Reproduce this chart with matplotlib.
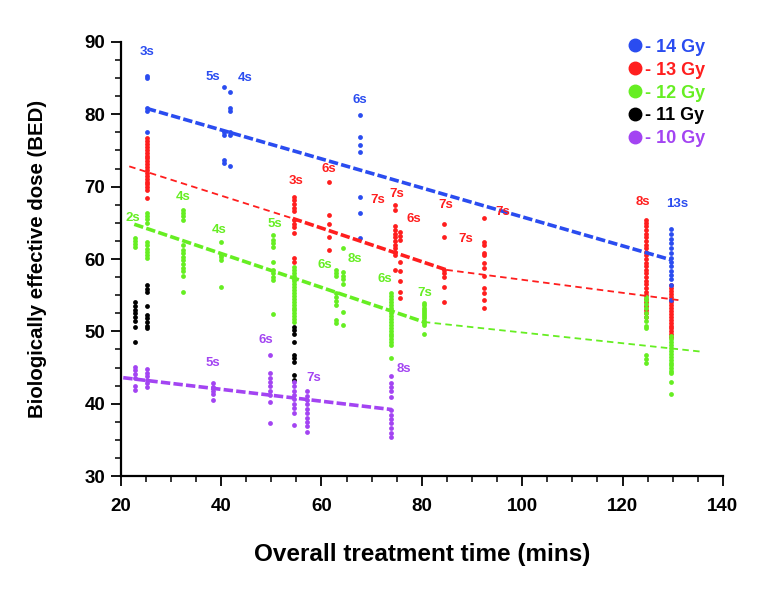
import matplotlib
matplotlib.use('Agg')
import matplotlib.pyplot as plt
from matplotlib.lines import Line2D
from matplotlib.ticker import MultipleLocator

plt.rcParams['font.family'] = ['Liberation Sans', 'DejaVu Sans']
plt.rcParams['font.weight'] = 'bold'

# colours of the five dose groups
c14 = '#2a4cf0'
c13 = '#ff1e1e'
c12 = '#66ee22'
c11 = '#000000'
c10 = '#a344f2'

# 14 Gy: treatment time of each column and the BED values in it
gy14_time = [25.2, 40.6, 41.7, 67.7, 129.6]
gy14_bed = [
    [85.3, 85.0, 80.8, 80.4, 77.6],
    [83.7, 77.6, 77.1, 73.7, 73.2],
    [83.1, 80.9, 80.5, 77.6, 77.1, 72.9],
    [79.9, 76.9, 75.8, 74.8, 68.6, 66.4, 62.9],
    [64.1, 63.5, 62.8, 62.2, 61.5, 60.8, 60.2, 59.6, 59.0, 58.4, 57.8, 57.2, 56.4, 54.3],
]

# 13 Gy
gy13_time = [25.2, 54.5, 61.5, 74.7, 75.7, 84.5, 92.4, 124.6, 129.6]
gy13_bed = [
    [76.7, 76.3, 75.9, 75.5, 75.1, 74.7, 74.3, 73.9, 73.5, 73.1, 72.7, 72.3, 71.9,
     71.5, 71.1, 70.7, 70.3, 69.9, 69.5, 68.4],
    [68.6, 68.1, 67.6, 67.1, 66.6, 65.4, 64.9, 64.4, 63.6, 60.1, 59.6],
    [70.7, 66.1, 64.9, 63.1, 61.3],
    [67.5, 66.8, 64.5, 64.0, 63.5, 63.0, 62.5, 62.0, 61.5, 61.0, 60.5, 58.5],
    [63.8, 63.2, 62.6, 59.6, 58.4, 56.9, 55.5, 54.6],
    [64.8, 63.1, 58.5, 58.0, 57.5, 56.2, 54.1],
    [65.6, 62.4, 62.0, 60.8, 60.5, 59.4, 58.8, 57.6, 56.0, 55.3, 54.3, 53.2],
    [65.4, 65.0, 64.5, 64.0, 63.5, 63.0, 62.5, 62.0, 61.5, 61.0, 60.5, 60.0, 59.5,
     59.0, 58.5, 58.0, 57.5, 57.0, 56.5, 56.0, 55.5, 55.0, 54.5, 54.0, 53.5, 53.0,
     52.5, 52.0],
    [56.4, 56.0, 55.6, 55.2, 54.8, 54.4, 54.0, 53.6, 53.2, 52.8, 52.4, 52.0, 51.6,
     51.2, 50.8, 50.4, 50.0, 49.6, 49.2],
]

# 12 Gy
gy12_time = [22.8, 25.2, 32.4, 39.9, 50.3, 54.5, 62.9, 64.3, 73.8, 80.4, 124.6, 129.6]
gy12_bed = [
    [62.9, 62.5, 62.1, 61.7],
    [66.4, 66.0, 65.5, 65.0, 62.4, 61.9, 61.4, 60.9, 60.5, 60.1],
    [66.8, 66.4, 66.0, 65.4, 61.9, 61.2, 60.8, 60.3, 59.8, 59.3, 58.8, 58.3, 57.6, 55.4],
    [62.4, 60.6, 60.3, 59.9, 56.1],
    [63.3, 62.6, 62.2, 61.7, 59.6, 58.5, 58.0, 57.5, 57.1, 52.4],
    [58.9, 58.5, 58.1, 57.7, 57.3, 56.9, 56.5, 56.1, 55.7, 55.3, 54.9, 54.5, 54.1,
     53.7, 53.3, 52.9, 52.5, 52.1, 51.7, 51.3],
    [58.5, 58.1, 57.6, 55.3, 54.8, 54.2, 53.6, 51.6, 51.1],
    [61.5, 58.2, 57.7, 57.2, 56.6, 52.7, 50.9],
    [55.3, 54.9, 54.5, 54.1, 53.7, 53.3, 52.9, 52.5, 52.1, 51.7, 51.3, 50.9, 50.5,
     50.1, 49.7, 49.3, 48.9, 48.5, 48.1, 46.3],
    [53.9, 53.6, 53.3, 53.0, 52.7, 52.4, 52.1, 51.8, 51.5, 51.2, 50.9, 49.6],
    [54.8, 54.3, 53.8, 53.2, 52.6, 52.0, 51.4, 50.8, 50.4, 46.7, 46.2, 45.6],
    [49.3, 48.9, 48.5, 48.1, 47.7, 47.3, 46.9, 46.5, 46.1, 45.7, 45.3, 44.9, 44.5,
     44.2, 43.0, 41.3],
]

# 11 Gy
gy11_time = [22.8, 25.2, 54.5]
gy11_bed = [
    [54.0, 53.5, 53.0, 52.5, 52.0, 51.5, 50.6, 48.5],
    [56.4, 55.9, 55.5, 53.5, 52.3, 51.8, 51.3, 50.8, 50.4],
    [50.6, 50.2, 49.7, 48.6, 46.7, 46.3, 45.8, 44.0, 43.3],
]

# 10 Gy
gy10_time = [22.8, 25.2, 38.4, 49.7, 54.5, 57.1, 73.8]
gy10_bed = [
    [45.1, 44.6, 44.1, 43.6, 42.5, 41.9],
    [44.8, 44.3, 43.8, 43.3, 42.8, 42.3],
    [42.8, 42.3, 41.8, 41.3, 40.5],
    [46.8, 44.2, 43.6, 43.0, 42.4, 41.8, 41.2, 40.3, 37.4],
    [43.0, 42.4, 41.8, 41.2, 40.6, 40.0, 39.4, 38.7, 37.1],
    [41.7, 41.1, 40.5, 39.9, 39.3, 38.7, 38.1, 37.5, 36.9, 36.1],
    [43.8, 42.8, 42.3, 41.8, 41.0, 39.1, 38.5, 37.9, 37.3, 36.7, 36.0, 35.4],
]

# fitted trend lines (end points)
fit14_x, fit14_y = [25.2, 129.6], [80.8, 59.9]
fit13a_x, fit13a_y = [21.7, 54.3], [72.8, 65.6]
fit13b_x, fit13b_y = [54.3, 84.9], [65.6, 58.5]
fit13c_x, fit13c_y = [84.9, 131.4], [58.5, 54.3]
fit12a_x, fit12a_y = [22.7, 80.4], [64.8, 51.3]
fit12b_x, fit12b_y = [80.4, 135.7], [51.3, 47.2]
fit10_x, fit10_y = [20.5, 74.0], [43.6, 39.2]

# fraction labels: (time, BED, text)
labels14 = [(25.2, 88.6, '3s'), (38.3, 85.2, '5s'), (44.7, 85.0, '4s'),
            (67.6, 82.0, '6s'), (130.8, 67.6, '13s')]
labels13 = [(55.0, 70.8, '3s'), (61.5, 72.4, '6s'), (71.3, 68.1, '7s'),
            (75.1, 69.0, '7s'), (78.4, 65.5, '6s'), (84.8, 67.4, '7s'),
            (88.7, 62.7, '7s'), (96.2, 66.5, '7s'), (124.1, 67.9, '8s')]
labels12 = [(22.5, 65.7, '2s'), (32.4, 68.6, '4s'), (39.7, 64.0, '4s'),
            (50.7, 64.9, '5s'), (60.7, 59.2, '6s'), (66.6, 60.0, '8s'),
            (72.6, 57.3, '6s'), (80.6, 55.3, '7s')]
labels10 = [(38.3, 45.7, '5s'), (49.0, 48.8, '6s'), (58.5, 43.6, '7s'),
            (76.4, 44.8, '8s')]

fig = plt.figure(figsize=(7.69, 5.90), dpi=100)
ax = fig.add_axes([0.157, 0.193, 0.783, 0.736])

def draw_group(times, beds, color):
    for t, col in zip(times, beds):
        ax.scatter([t] * len(col), col, s=12, color=color, linewidths=0, zorder=3)

draw_group(gy13_time, gy13_bed, c13)
draw_group(gy14_time, gy14_bed, c14)
draw_group(gy12_time, gy12_bed, c12)
draw_group(gy11_time, gy11_bed, c11)
draw_group(gy10_time, gy10_bed, c10)

thick = dict(lw=2.6, dashes=(2.6, 0.9), zorder=4)
thin = dict(lw=1.3, dashes=(3.6, 2.4), zorder=4)
ax.plot(fit14_x, fit14_y, color=c14, **thick)
ax.plot(fit13a_x, fit13a_y, color=c13, **thin)
ax.plot(fit13b_x, fit13b_y, color=c13, **thick)
ax.plot(fit13c_x, fit13c_y, color=c13, **thin)
ax.plot(fit12a_x, fit12a_y, color=c12, **thick)
ax.plot(fit12b_x, fit12b_y, color=c12, **thin)
ax.plot(fit10_x, fit10_y, color=c10, **thick)

for labels, color in [(labels14, c14), (labels13, c13), (labels12, c12), (labels10, c10)]:
    for t, b, txt in labels:
        ax.text(t, b, txt, color=color, fontsize=9.5, fontweight='bold',
                ha='center', va='center', zorder=5)

handles = [Line2D([], [], ls='none', marker='o', ms=9, color=c) for c in [c14, c13, c12, c11, c10]]
names = ['- 14 Gy', '- 13 Gy', '- 12 Gy', '- 11 Gy', '- 10 Gy']
ax.legend(handles, names, loc='upper left', bbox_to_anchor=(0.815, 1.045), frameon=False,
          handlelength=0.8, handletextpad=0.15, labelspacing=0.33,
          labelcolor=[c14, c13, c12, c11, c10],
          prop={'weight': 'bold', 'size': 13})

ax.set_xlim(20, 140)
ax.set_ylim(30, 90)
ax.xaxis.set_major_locator(MultipleLocator(20))
ax.xaxis.set_minor_locator(MultipleLocator(5))
ax.yaxis.set_major_locator(MultipleLocator(10))
ax.yaxis.set_minor_locator(MultipleLocator(2.5))
ax.tick_params(which='major', direction='out', length=7, width=1.3, labelsize=13.5)
ax.tick_params(axis='x', which='major', pad=9)
ax.tick_params(axis='y', which='major', pad=4)
ax.tick_params(which='minor', direction='out', length=4, width=1.1)
for lab in ax.get_xticklabels() + ax.get_yticklabels():
    lab.set_fontweight('bold')
for side in ['top', 'right']:
    ax.spines[side].set_visible(False)
for side in ['left', 'bottom']:
    ax.spines[side].set_linewidth(1.6)

ax.set_xlabel('Overall treatment time (mins)', fontsize=17.5, fontweight='bold', labelpad=20)
ax.set_ylabel('Biologically effective dose (BED)', fontsize=14.7, fontweight='bold', labelpad=27)

fig.savefig('out.png', dpi=100, facecolor='white')
